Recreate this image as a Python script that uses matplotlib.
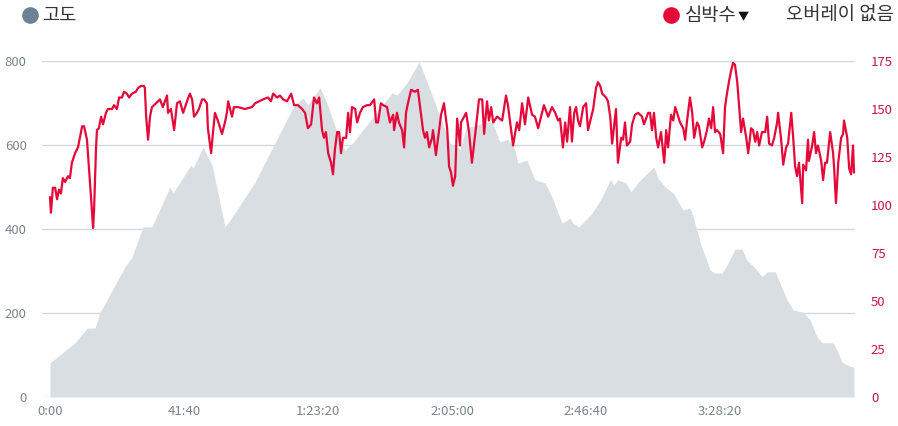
import numpy as np
import matplotlib.pyplot as plt
from matplotlib.lines import Line2D

plt.rcParams['font.family'] = ['Noto Sans CJK KR', 'DejaVu Sans']

# elevation profile: elapsed minutes, metres
ELEV_MIN = [0.0, 7.8, 11.5, 14.0, 15.5, 23.3, 25.5, 28.9, 31.7, 37.3, 38.3, 43.8, 44.5,
            47.6, 50.4, 54.4, 56.0, 63.8, 75.6, 78.7, 80.2, 84.0, 86.1, 89.3, 91.7, 94.2,
            97.3, 101.7, 106.4, 107.9, 111.0, 114.8, 118.2, 121.3, 124.4, 127.5, 129.4,
            133.7, 137.5, 139.9, 142.4, 144.6, 145.5, 148.3, 150.8, 153.9, 156.1, 159.2,
            161.7, 162.6, 164.5, 168.6, 171.7, 174.2, 175.4, 176.6, 179.1, 180.7, 182.9,
            187.8, 189.1, 191.3, 193.7, 196.9, 199.0, 200.0, 202.2, 205.3, 206.8, 209.0,
            210.5, 213.0, 215.2, 216.7, 219.9, 221.4, 223.0, 225.5, 227.0, 229.2, 231.1,
            234.2, 236.4, 238.5, 240.1, 243.5, 244.7, 246.3, 247.9, 250.0]
ELEV_M = [81, 129, 164, 164, 200, 310, 333, 405, 405, 500, 486, 552, 545,
          595, 552, 405, 421, 512, 690, 712, 695, 736, 700, 629, 588, 605,
          636, 679, 724, 719, 748, 798, 731, 667, 605, 590, 640,
          650, 655, 607, 614, 588, 557, 564, 517, 510, 476, 414,
          426, 414, 405, 438, 476, 517, 505, 517, 510, 488, 512,
          548, 521, 500, 486, 445, 450, 429, 367, 302, 295, 295,
          314, 352, 352, 326, 302, 286, 298, 298, 271, 231, 207,
          202, 183, 143, 129, 129, 112, 83, 76, 71]

# heart rate: elapsed minutes, bpm
HR_MIN = [0.0, 0.3, 0.9, 1.6, 2.2, 2.8, 3.4, 4.0, 4.7, 5.6, 6.2, 6.8, 7.8, 8.7, 9.3, 10.0,
          10.6, 11.5, 12.1, 12.8, 13.4, 13.7, 14.3, 14.6, 15.2, 15.9, 16.5, 17.4, 18.0,
          19.3, 19.9, 20.8, 21.5, 22.4, 23.0, 23.9, 24.6, 25.5, 26.7, 27.4, 28.3, 29.2,
          29.5, 29.9, 30.5, 31.1, 31.7, 33.0, 34.2, 35.1, 36.4, 36.7, 37.6, 38.6, 39.5,
          40.4, 41.4, 42.6, 43.5, 44.2, 44.8, 45.7, 46.3, 47.3, 47.9, 48.8, 49.1, 50.1,
          50.7, 51.3, 52.2, 53.5, 54.4, 55.0, 55.4, 56.6, 57.2, 58.5, 60.6, 62.8, 63.8,
          66.2, 67.8, 68.7, 69.4, 70.6, 71.5, 72.5, 73.7, 75.0, 75.9, 77.1, 78.4, 79.3,
          80.2, 81.2, 82.1, 83.0, 83.7, 84.6, 85.2, 85.8, 86.5, 87.4, 88.0, 88.6, 89.3,
          89.9, 90.5, 91.1, 92.1, 92.7, 93.3, 93.9, 94.9, 95.5, 96.4, 97.3, 98.6, 99.5,
          100.8, 101.4, 102.0, 102.9, 103.6, 104.8, 105.7, 106.7, 107.0, 107.9, 108.5,
          109.5, 110.1, 110.7, 111.3, 112.3, 113.5, 114.4, 115.1, 116.0, 116.6, 117.2,
          117.9, 118.8, 119.1, 120.0, 120.7, 121.6, 122.5, 123.5, 124.1, 124.7, 125.3,
          126.0, 126.6, 127.5, 127.8, 129.4, 130.3, 131.2, 132.5, 133.4, 134.4, 135.0,
          135.9, 136.5, 137.2, 137.8, 139.0, 140.6, 141.8, 142.4, 143.1, 144.0, 145.2,
          145.9, 146.8, 147.7, 148.7, 149.9, 150.8, 151.8, 152.7, 153.6, 154.9, 156.1,
          157.1, 158.0, 158.6, 159.5, 160.2, 160.8, 161.7, 162.3, 163.0, 163.6, 164.2,
          164.8, 165.8, 166.7, 167.3, 168.3, 168.9, 169.8, 170.4, 171.1, 171.7, 172.9,
          173.5, 174.2, 174.8, 175.4, 176.0, 176.6, 177.6, 178.2, 178.8, 179.4, 180.4,
          181.0, 181.9, 182.9, 184.1, 184.7, 186.0, 186.6, 187.2, 187.8, 188.5, 189.1,
          190.0, 191.0, 191.6, 192.2, 193.1, 193.8, 194.4, 195.0, 195.9, 196.9, 197.5,
          198.1, 199.0, 199.7, 200.3, 201.2, 201.8, 202.8, 203.4, 204.3, 204.9, 205.6,
          206.2, 206.8, 207.4, 208.4, 209.3, 209.9, 210.5, 211.2, 211.8, 212.4, 213.0,
          213.7, 214.3, 214.9, 215.5, 216.5, 217.1, 218.0, 218.6, 219.3, 219.9, 220.5,
          221.4, 222.4, 223.0, 223.6, 224.5, 225.2, 226.1, 226.4, 227.3, 228.0, 228.9,
          229.5, 230.5, 231.1, 231.7, 232.3, 232.9, 233.9, 234.2, 235.1, 235.7, 236.0,
          237.0, 237.6, 238.2, 238.8, 239.8, 240.4, 241.0, 241.6, 242.6, 243.5, 243.8,
          244.4, 245.1, 246.0, 246.6, 246.9, 247.9, 248.5, 249.1, 249.7, 250.0]
HR_BPM = [104, 96, 109, 109, 103, 108, 106, 114, 112, 115, 114, 122, 127, 130, 135, 141,
          141, 134, 120, 103, 88, 97, 129, 139, 140, 146, 142, 148, 150,
          150, 152, 150, 156, 156, 159, 158, 156, 158, 159, 161, 162, 162,
          161, 146, 134, 146, 151, 153, 155, 151, 157, 148, 150, 139, 153,
          154, 148, 154, 158, 155, 146, 148, 150, 155, 155, 153, 140, 127,
          138, 148, 144, 137, 143, 148, 154, 146, 151, 151, 150, 151, 153,
          155, 156, 154, 158, 156, 157, 155, 154, 158, 152, 152, 150, 148,
          140, 142, 156, 153, 156, 139, 135, 138, 127, 122, 116, 129, 138,
          138, 127, 135, 135, 148, 138, 151, 150, 143, 148, 151, 152, 152,
          155, 143, 143, 153, 152, 151, 143, 147, 139, 148, 143,
          139, 130, 148, 153, 160, 159, 160, 151, 139, 135, 138,
          130, 135, 139, 126, 135, 147, 153, 140, 120, 117, 110,
          115, 145, 131, 143, 148, 138, 122, 141, 155, 155, 137,
          154, 144, 151, 143, 146, 144, 157, 152, 143, 131, 143,
          139, 153, 142, 156, 147, 146, 140, 146, 152, 146, 151,
          148, 144, 145, 130, 143, 133, 151, 133, 148, 151, 144,
          141, 151, 153, 139, 146, 150, 161, 164, 162, 158, 156,
          154, 146, 132, 141, 150, 122, 135, 134, 143, 131, 133,
          142, 147, 148, 146, 142, 148, 148, 139, 148, 135, 130,
          138, 122, 139, 130, 147, 144, 151, 148, 143, 140, 134,
          144, 156, 148, 135, 143, 141, 130, 133, 139, 145, 140,
          151, 138, 139, 137, 127, 151, 158, 165, 170, 174, 173,
          164, 151, 138, 145, 135, 127, 140, 139, 133, 138, 131,
          138, 138, 146, 132, 131, 135, 143, 148, 135, 121, 130,
          132, 148, 135, 120, 115, 122, 101, 121, 118, 134, 123,
          131, 138, 127, 131, 123, 113, 122, 122, 138, 127, 120,
          101, 122, 135, 137, 144, 135, 119, 116, 131, 117]

X_TICKS = [0, 2500, 5000, 7500, 10000, 12500]
X_LABELS = ['0:00', '41:40', '1:23:20', '2:05:00', '2:46:40', '3:28:20']

GRID = '#d3d7db'
AXIS_TXT = '#7a8590'
HR_COLOR = '#e5093a'
HR_TICK = '#c8174a'
ELEV_COLOR = '#d9dee2'
LEGEND_TXT = '#333333'

fig = plt.figure(figsize=(8.98, 4.26), dpi=100)
ax = fig.add_axes([42 / 898, 1 - 397 / 426, (855 - 42) / 898, (397 - 61) / 426])
ax2 = ax.twinx()

elev_t = np.array(ELEV_MIN) * 60
hr_t = np.array(HR_MIN) * 60

ax.fill_between(elev_t, ELEV_M, 0, color=ELEV_COLOR, lw=0, zorder=1)
ax2.plot(hr_t, HR_BPM, color=HR_COLOR, lw=1.6, zorder=3, clip_on=False)

ax.set_xlim(-149, 15019)
ax.set_ylim(0, 800)
ax2.set_ylim(0, 175)
ax.set_yticks([0, 200, 400, 600, 800])
ax2.set_yticks(range(0, 176, 25))
ax.set_xticks(X_TICKS)
ax.set_xticklabels(X_LABELS)

ax.grid(axis='y', color=GRID, lw=1)
ax.set_axisbelow(True)
for a in (ax, ax2):
    for s in a.spines.values():
        s.set_visible(False)
ax.tick_params(axis='both', length=0, labelsize=9.5, labelcolor=AXIS_TXT)
ax.tick_params(axis='y', pad=11)
ax.tick_params(axis='x', pad=6)
ax2.tick_params(axis='y', length=0, labelsize=9.5, labelcolor=HR_TICK, pad=11.5)

# legend row on top
ly = 1 - 15 / 426
fig.add_artist(Line2D([30 / 898], [ly], marker='o', ms=12, color='#6a8396',
                      mec='none', transform=fig.transFigure))
fig.text(42 / 898, ly, '고도', fontsize=13.5, color=LEGEND_TXT, va='center')
fig.add_artist(Line2D([671 / 898], [ly], marker='o', ms=12, color='#e5093a',
                      mec='none', transform=fig.transFigure))
fig.text(685 / 898, ly, '심박수', fontsize=13.5, color=LEGEND_TXT, va='center')
fig.text(738 / 898, ly - 2 / 426, '▼', fontsize=8, color='#111111', va='center')
fig.text(894 / 898, ly, '오버레이 없음', fontsize=13.5, color=LEGEND_TXT,
         va='center', ha='right')

fig.savefig('out.png', dpi=100)
